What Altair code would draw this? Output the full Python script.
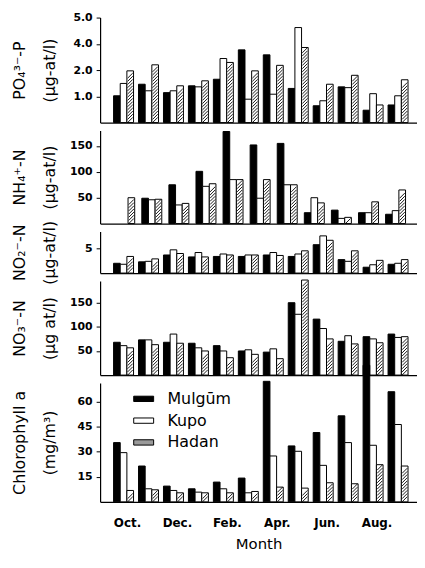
import altair as alt
import pandas as pd

months = ["Oct", "Nov", "Dec", "Jan", "Feb", "Mar", "Apr", "May", "Jun", "Jul", "Aug", "Sep"]
month_labels = ["Oct", "Dec", "Feb", "Apr", "Jun", "Aug"]
sites = ["Mulgūm", "Kupo", "Hadan"]

# PO4 (read against axis positions; ticks at 1..4 are printed as 1.0, 2.0, 4.0, 5.0)
po4_ticks = [1, 2, 3, 4]
po4_tick_labels = ["1.0", "2.0", "4.0", "5.0"]
po4_mulgum = [1.02, 1.46, 1.14, 1.40, 1.65, 2.77, 2.58, 1.30, 0.64, 1.36, 0.47, 0.67]
po4_kupo = [1.49, 1.21, 1.21, 1.36, 2.44, 0.89, 1.08, 3.62, 0.83, 1.33, 1.10, 1.02]
po4_hadan = [1.97, 2.20, 1.40, 1.59, 2.29, 1.97, 2.18, 2.86, 1.46, 1.80, 0.67, 1.63]

nh4_ticks = [50, 100, 150]
nh4_mulgum = [None, 49, 75, 101, 178, 152, 155, 21, 26, 21, None, 18]
nh4_kupo = [None, 46, 36, 72, 85, 49, 75, 50, 10, 21, None, 25]
nh4_hadan = [50, 47, 39, 77, 85, 85, 75, 40, 12, 42, None, 65]

no2_ticks = [5]
no2_mulgum = [2.0, 2.3, 3.7, 3.3, 3.4, 3.4, 3.7, 3.4, 5.8, 2.75, 1.2, 1.8]
no2_kupo = [1.8, 2.4, 4.75, 4.2, 3.9, 3.7, 4.2, 3.9, 7.6, 2.4, 1.7, 2.0]
no2_hadan = [3.4, 2.9, 4.0, 3.3, 3.7, 3.7, 3.6, 4.55, 6.7, 4.55, 2.6, 2.75]

no3_ticks = [50, 100, 150]
no3_mulgum = [68, 73, 68, 66, 61, 50, 47.6, 150, 116, 70, 79.6, 85]
no3_kupo = [61, 73, 85, 56.5, 50, 52.4, 54.4, 126, 96.5, 81.6, 75, 78]
no3_hadan = [56.5, 63, 66, 50, 36, 43, 34, 197, 75, 64.6, 67, 79.6]

chl_ticks = [15, 30, 45, 60]
chl_mulgum = [35.4, 21.4, 9.4, 7.8, 11.8, 14.2, 72, 33.4, 41.4, 51.4, 81.6, 65.8]
chl_kupo = [29.4, 7.8, 6.8, 5.8, 7.8, 5.4, 27.4, 30.2, 21.8, 35.4, 33.8, 46.2]
chl_hadan = [6.8, 7.2, 5.4, 5.4, 5.4, 6.2, 8.8, 8.2, 11.4, 10.8, 22.2, 21.4]

PLOT_W = 320
FONT = "DejaVu Sans"


def label_expr(ticks, labels):
    expr = "''"
    for t, l in reversed(list(zip(ticks, labels))):
        expr = f"datum.value == {t} ? '{l}' : ({expr})"
    return expr


def make_panel(series, title_lines, ymax, height, ticks, tick_labels=None, last=False):
    rows = []
    for s, arr in zip(sites, series):
        for m, v in zip(months, arr):
            rows.append({"month": m, "site": s, "value": v})
    df = pd.DataFrame(rows)

    if last:
        xaxis = alt.Axis(values=month_labels, labelExpr="datum.value + '.'", labelAngle=0,
                         ticks=False, labelFontWeight="bold", labelFontSize=12, labelPadding=16,
                         labelOffset=4, title="Month", titleFontSize=15, titleFontWeight="normal",
                         titlePadding=8, domainColor="black", domainWidth=1.2, labelColor="black")
    else:
        xaxis = alt.Axis(labels=False, ticks=False, title=None, domainColor="black", domainWidth=1.2)

    x = alt.X("month:N", sort=months,
              scale=alt.Scale(paddingInner=0.2, paddingOuter=0.45, align=0.6), axis=xaxis)
    xo = alt.XOffset("site:N", sort=sites, scale=alt.Scale(paddingInner=0, paddingOuter=0))

    yaxis_kw = dict(values=ticks, title=title_lines, titleX=-73, titleFontSize=16,
                    titleFontWeight="normal", titleLineHeight=30, grid=False,
                    domainColor="black", domainWidth=1.2, tickColor="black", tickSize=4,
                    labelFontWeight="bold", labelFontSize=11, labelPadding=4, labelColor="black")
    if tick_labels is not None:
        yaxis_kw["labelExpr"] = label_expr(ticks, tick_labels)
    y = alt.Y("value:Q", scale=alt.Scale(domain=[0, ymax], nice=False, zero=True),
              axis=alt.Axis(**yaxis_kw))

    if last:
        leg = alt.Legend(orient="none", legendX=36, legendY=8, title=None,
                         symbolType="M-1.5,-0.4H1.5V0.4H-1.5Z", symbolSize=180,
                         symbolStrokeColor="black", symbolStrokeWidth=1,
                         labelFont=FONT, labelFontSize=16, labelOffset=16, rowPadding=6,
                         labelColor="black")
    else:
        leg = None

    fill = alt.condition(alt.datum.site == "Hadan", alt.value("white"),
                         alt.Fill("site:N", scale=alt.Scale(domain=sites, range=["black", "white", "#9a9a9a"]),
                                  legend=leg))

    bars = alt.Chart(df).mark_bar(stroke="black", strokeWidth=1).encode(
        x=x, xOffset=xo, y=y, fill=fill
    ).transform_filter("isValid(datum.value)")

    upp = ymax / height  # data units per pixel
    hp = 2.6 * upp
    step = 3.2 * upp
    hatch = alt.Chart(df).transform_filter(
        "isValid(datum.value) && datum.site == 'Hadan'"
    ).transform_calculate(
        hy=f"sequence({hp}, datum.value - {hp} + 1e-9, {step})"
    ).transform_flatten(["hy"]).transform_calculate(
        value="datum.hy"
    ).mark_point(shape="M-1,1L1,-1", filled=False, stroke="black", strokeWidth=0.9,
                 size=4 * 2.6 * 2.6, opacity=1).encode(x=x, xOffset=xo, y=y)

    return alt.layer(bars, hatch).properties(width=PLOT_W, height=height)


p1 = make_panel([po4_mulgum, po4_kupo, po4_hadan], ["PO₄³⁻-P", "(μg-at/l)"], 4, 106, po4_ticks, po4_tick_labels)
p2 = make_panel([nh4_mulgum, nh4_kupo, nh4_hadan], ["NH₄⁺-N", "(μg-at/l)"], 180, 94, nh4_ticks)
p3 = make_panel([no2_mulgum, no2_kupo, no2_hadan], ["NO₂⁻-N", "(μg-at/l)"], 8.5, 42, no2_ticks)
p4 = make_panel([no3_mulgum, no3_kupo, no3_hadan], ["NO₃⁻-N", "(μg at/l)"], 195, 95, no3_ticks)
p5 = make_panel([chl_mulgum, chl_kupo, chl_hadan], ["Chlorophyll a", "(mg/m³)"], 71, 120, chl_ticks, last=True)

chart = alt.vconcat(p1, p2, p3, p4, p5, spacing=8, bounds="flush").resolve_scale(
    fill="independent"
).properties(
    padding={"left": 4, "top": 1, "right": 0, "bottom": 0}
).configure(font=FONT).configure_view(stroke=None)

chart.save("out.html", embed_options={"renderer": "svg", "actions": False})
